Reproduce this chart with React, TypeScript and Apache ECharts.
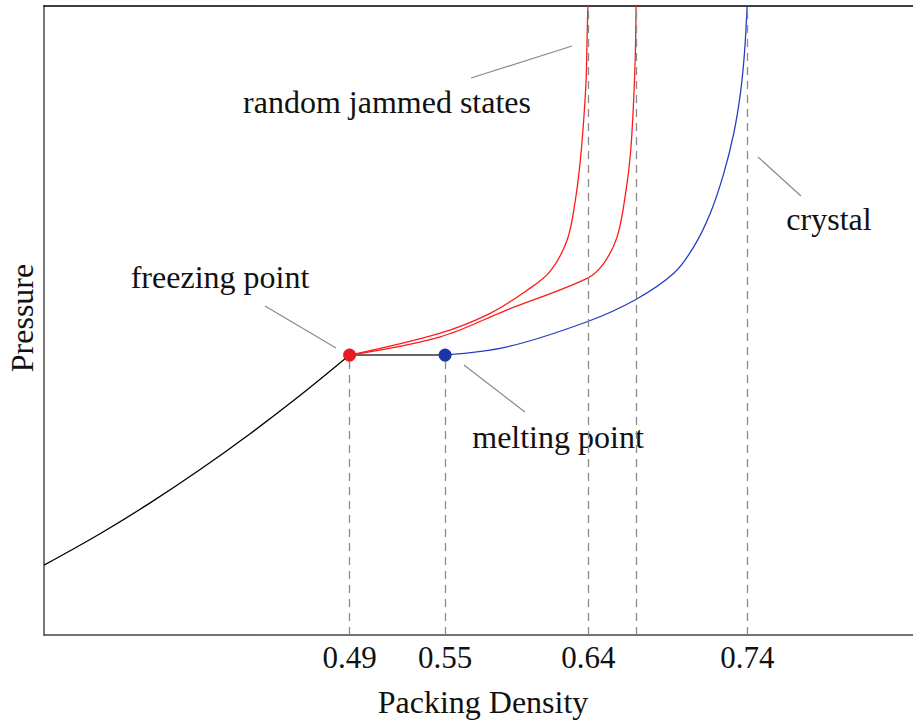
import React, { useEffect, useRef } from "react";
import * as echarts from "echarts";

// ---- data ----
const xTickLabels = [0.49, 0.55, 0.64, 0.74];
const liquidBranch: [number, number][] = [
  [0.298, 1.11], [0.3332, 1.61], [0.3647, 2.1], [0.3961, 2.63], [0.4275, 3.2], [0.459, 3.81], [0.49, 4.45],
];
const coexistence: [number, number][] = [[0.49, 4.45], [0.55, 4.45]];
const jammedA: [number, number][] = [
  [0.49, 4.45], [0.547, 4.8], [0.578, 5.11], [0.6015, 5.48], [0.616, 5.78], [0.6267, 6.28],
  [0.6319, 6.92], [0.635, 7.55], [0.6371, 8.19], [0.6386, 8.82], [0.6392, 9.46], [0.6397, 10],
];
const jammedB: [number, number][] = [
  [0.49, 4.45], [0.547, 4.74], [0.589, 5.17], [0.6392, 5.67], [0.6497, 5.91], [0.6581, 6.33],
  [0.6633, 7.0], [0.6665, 7.66], [0.6685, 8.51], [0.6696, 9.3], [0.67, 10],
];
const crystalBranch: [number, number][] = [
  [0.55, 4.45], [0.5889, 4.58], [0.6392, 4.98], [0.6696, 5.33], [0.6937, 5.75], [0.7062, 6.17], [0.7167, 6.71],
  [0.7251, 7.34], [0.7314, 7.98], [0.7356, 8.62], [0.7381, 9.25], [0.7398, 10],
];
const freezingPoint: [number, number] = [0.49, 4.45];
const meltingPoint: [number, number] = [0.55, 4.45];
const jammingDensities = [0.64, 0.67];
const crystalDensity = 0.74;

const FONT = "'Liberation Serif', 'DejaVu Serif', serif";

export default function App() {
  const ref = useRef<HTMLDivElement>(null);
  useEffect(() => {
    if (!ref.current) return;
    const chart = echarts.init(ref.current, undefined, { renderer: "svg" });
    const dashStyle = { color: "#8a8a8a", width: 1.3, type: [8, 6] as any };
    const curve = (data: [number, number][], color: string) => ({
      type: "line",
      data,
      showSymbol: false,
      smooth: 0.35,
      lineStyle: { color, width: 1.3 },
      z: 3,
    });
    const label = (text: string, x: number, y: number, extra: any = {}) => ({
      type: "text",
      x,
      y,
      ...extra,
      style: { text, font: `32px ${FONT}`, fill: "#111", align: "center", verticalAlign: "middle" },
    });
    const option: any = {
      animation: false,
      grid: { left: 44, right: 0, top: 6, bottom: 86, containLabel: false },
      xAxis: [
        {
          type: "value",
          min: 0.298,
          max: 0.844,
          axisLine: { show: true, lineStyle: { color: "#444", width: 1.6 } },
          axisTick: { show: false },
          splitLine: { show: false },
          axisLabel: {
            customValues: xTickLabels,
            formatter: (v: number) => v.toFixed(2),
            fontSize: 31,
            fontFamily: FONT,
            color: "#111",
            margin: 7,
          },
        },
        {
          type: "value",
          position: "top",
          min: 0.298,
          max: 0.844,
          axisLine: { show: true, onZero: false, lineStyle: { color: "#000", width: 1.6 } },
          axisTick: { show: false },
          axisLabel: { show: false },
          splitLine: { show: false },
        },
      ],
      yAxis: {
        type: "value",
        min: 0,
        max: 10,
        axisLine: { show: true, lineStyle: { color: "#555", width: 1.6 } },
        axisTick: { show: false },
        axisLabel: { show: false },
        splitLine: { show: false },
      },
      series: [
        {
          type: "line",
          data: [],
          silent: true,
          markLine: {
            silent: true,
            symbol: ["none", "none"],
            label: { show: false },
            lineStyle: dashStyle,
            data: [
              [{ coord: [freezingPoint[0], 0] }, { coord: freezingPoint }],
              [{ coord: [meltingPoint[0], 0] }, { coord: meltingPoint }],
              ...jammingDensities.map((d) => [{ coord: [d, 0] }, { coord: [d, 10] }]),
              [{ coord: [crystalDensity, 0] }, { coord: [crystalDensity, 10] }],
            ],
          },
          z: 1,
        },
        curve(liquidBranch, "#000"),
        {
          type: "line",
          data: coexistence,
          showSymbol: false,
          lineStyle: { color: "#666", width: 2 },
          z: 3,
        },
        curve(jammedA, "#ff1a1a"),
        curve(jammedB, "#ff1a1a"),
        curve(crystalBranch, "#2440c0"),
        {
          type: "scatter",
          data: [freezingPoint],
          symbolSize: 13,
          itemStyle: { color: "#ec1820", opacity: 1 },
          z: 5,
        },
        {
          type: "scatter",
          data: [meltingPoint],
          symbolSize: 13,
          itemStyle: { color: "#1c36a6", opacity: 1 },
          z: 5,
        },
      ],
      graphic: [
        { type: "line", shape: { x1: 265, y1: 306, x2: 336, y2: 348 }, style: { stroke: "#8a8a8a", lineWidth: 1.2 } },
        { type: "line", shape: { x1: 464, y1: 365, x2: 525, y2: 412 }, style: { stroke: "#8a8a8a", lineWidth: 1.2 } },
        { type: "line", shape: { x1: 471, y1: 78, x2: 572, y2: 46 }, style: { stroke: "#8a8a8a", lineWidth: 1.2 } },
        { type: "line", shape: { x1: 758, y1: 157, x2: 801, y2: 196 }, style: { stroke: "#8a8a8a", lineWidth: 1.2 } },
        label("freezing point", 220, 277),
        label("melting point", 558, 437),
        label("random jammed states", 387, 102),
        label("crystal", 829, 219),
        label("Packing Density", 483, 702),
        label("Pressure", 22, 318, { rotation: Math.PI / 2 }),
      ],
    };
    chart.setOption(option);
    return () => chart.dispose();
  }, []);
  return (
    <div
      ref={ref}
      style={{ position: "absolute", left: 0, top: 0, width: 913, height: 721 }}
    />
  );
}
